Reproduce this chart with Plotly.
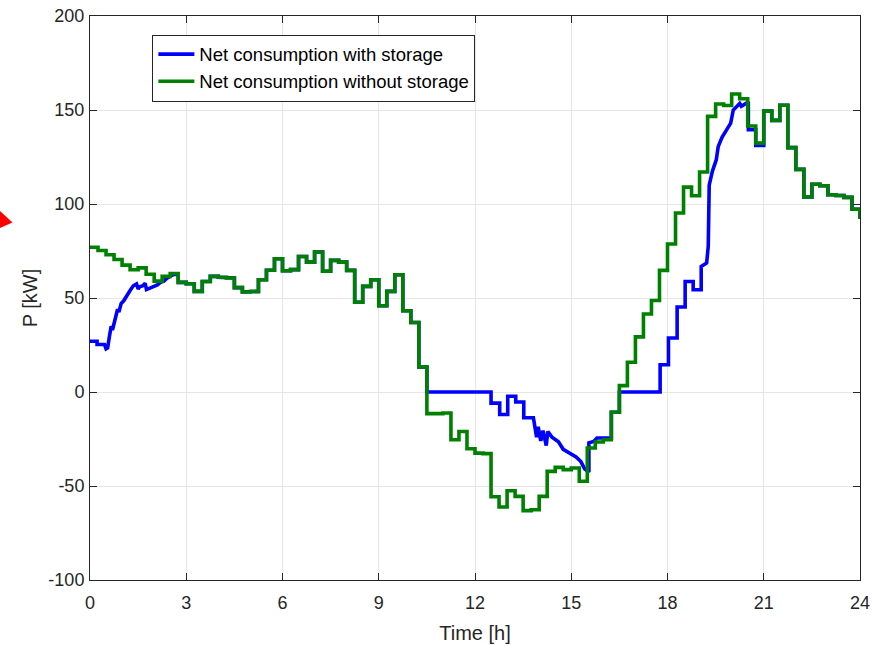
import plotly.graph_objects as go

# ---------------- data ----------------
# Net consumption without storage: 15-minute values, t = 0, 0.25, ..., 23.75 h
green_time = [i * 0.25 for i in range(96)]
green_values = [
    77.0, 75.3, 73.0, 70.5, 67.5, 65.0, 66.0, 62.6,
    59.0, 61.5, 63.0, 58.3, 57.6, 53.5, 58.8, 61.5,
    61.0, 60.6, 55.5, 53.2, 53.5, 59.7, 64.8, 70.9,
    64.5, 65.1, 72.1, 69.1, 74.5, 64.2, 70.0, 69.1,
    64.7, 47.7, 56.2, 59.7, 45.9, 53.5, 62.4, 43.2,
    37.0, 13.3, -11.5, -11.5, -11.2, -25.4, -21.0, -30.2,
    -32.5, -32.8, -55.7, -61.2, -52.5, -55.5, -63.1, -62.6,
    -55.5, -42.2, -40.1, -41.3, -40.4, -47.5, -29.8, -26.6,
    -25.4, -10.8, 3.4, 15.8, 29.3, 41.5, 48.7, 64.7,
    78.7, 95.2, 109.0, 104.4, 117.0, 146.6, 153.2, 152.4,
    158.5, 156.0, 141.5, 132.4, 149.5, 144.5, 152.5, 130.0,
    118.4, 103.7, 110.5, 109.7, 104.9, 104.5, 103.5, 97.2,
]
green_end_time = 24.0
green_end_value = 92.0

# Net consumption with storage: sections where it differs from the curve without storage
blue_a_time = [0, 0.22, 0.22, 0.45, 0.5, 0.55, 0.6, 0.66, 0.7, 0.78, 0.86, 0.9, 0.97,
               1.05, 1.15, 1.25, 1.35, 1.45, 1.5, 1.55, 1.65, 1.72, 1.76, 1.9, 2.0,
               2.1, 2.2, 2.3, 2.4, 2.5, 2.6, 2.7, 2.75]
blue_a_values = [27, 27, 25.3, 25.3, 23, 23.5, 29, 35, 33, 39, 44, 42.5, 47,
                 48.5, 51.5, 54, 56.5, 57.5, 54.8, 56, 56.5, 57.8, 54.5, 55.5, 56.5,
                 57, 58.3, 59, 60.5, 61.5, 62.5, 62.7, 62.7]

blue_b_time = [10.5, 12.5, 12.5, 12.77, 12.77, 13.02, 13.02, 13.27, 13.27, 13.52, 13.52,
               13.82, 13.92, 13.97, 14.05, 14.12, 14.22, 14.27, 14.4, 14.5, 14.6, 14.75,
               14.95, 15.15, 15.3, 15.42, 15.55, 15.55, 15.7, 15.8, 16.25]
blue_b_values = [0, 0, -5.9, -5.9, -12, -12, -2.3, -2.3, -5.3, -5.3, -13.7,
                 -13.7, -24, -18.5, -26, -20.5, -28.5, -21, -24, -25.5, -26.5, -30.5,
                 -32.5, -34.5, -37, -41, -42.5, -27, -26.3, -24.5, -24.5]

blue_c_time = [16.5, 17.77, 17.77, 18.03, 18.03, 18.3, 18.3, 18.55, 18.55, 18.8, 18.8,
               19.05, 19.05, 19.22, 19.27, 19.3, 19.4, 19.52, 19.58, 19.7, 19.8, 19.97,
               20.05, 20.17, 20.25, 20.3, 20.45, 20.52, 20.52, 20.75, 20.75, 21.0]
blue_c_values = [0, 0, 14.5, 14.5, 28.7, 28.7, 45.2, 45.2, 58.8, 58.8, 54.4,
                 54.4, 66.8, 68.6, 77.5, 110, 117.5, 123.5, 130.5, 135.5, 138.5, 143,
                 150, 152.3, 153.5, 152, 153.5, 153.5, 139.5, 139.5, 131.2, 131.2]

x_ticks = [0, 3, 6, 9, 12, 15, 18, 21, 24]
y_ticks = [-100, -50, 0, 50, 100, 150, 200]


def shared_steps(t_from, t_to):
    """Step corners of the shared curve between t_from and t_to."""
    xs, ys = [], []
    times = green_time + [green_end_time]
    for i in range(len(green_time)):
        t0, t1 = times[i], times[i + 1]
        if t0 >= t_from - 1e-9 and t1 <= t_to + 1e-9:
            xs += [t0, t1]
            ys += [green_values[i], green_values[i]]
    return xs, ys


bx, by = list(blue_a_time), list(blue_a_values)
sx, sy = shared_steps(2.75, 10.5)
bx += sx; by += sy
bx += blue_b_time; by += blue_b_values
sx, sy = shared_steps(16.25, 16.5)
bx += sx; by += sy
bx += blue_c_time; by += blue_c_values
sx, sy = shared_steps(21.0, 24.0)
bx += sx + [green_end_time]; by += sy + [green_end_value]

FONT = "Arial, Liberation Sans, sans-serif"
AXIS_COLOR = "#262626"
GRID_COLOR = "#e6e6e6"

fig = go.Figure()
fig.add_trace(go.Scatter(
    x=bx, y=by, mode="lines", name="Net consumption with storage",
    line=dict(color="#0000ff", width=3.6), legendgroup="a",
))
fig.add_trace(go.Scatter(
    x=green_time + [green_end_time], y=green_values + [green_end_value],
    mode="lines", name="Net consumption without storage",
    line=dict(color="#008000", width=3.6, shape="hv"), legendgroup="b",
))

axis_common = dict(
    showline=True, linecolor=AXIS_COLOR, linewidth=1, mirror="ticks",
    ticks="inside", ticklen=7, tickcolor=AXIS_COLOR, tickwidth=1,
    showgrid=True, gridcolor=GRID_COLOR, gridwidth=1, zeroline=False,
    tickfont=dict(family=FONT, size=18, color=AXIS_COLOR),
    automargin=False,
)

fig.update_xaxes(
    range=[0, 24], tickvals=x_ticks, ticktext=[str(v) for v in x_ticks],
    ticklabelstandoff=6,
    title=dict(text="Time [h]", font=dict(family=FONT, size=20, color=AXIS_COLOR), standoff=14),
    **axis_common,
)
fig.update_yaxes(
    range=[-100, 200], tickvals=y_ticks, ticktext=[str(v) for v in y_ticks],
    ticklabelstandoff=1,
    title=dict(text="P [kW]", font=dict(family=FONT, size=20, color=AXIS_COLOR), standoff=5),
    **axis_common,
)

fig.update_layout(
    width=873, height=646,
    margin=dict(l=90, r=13, t=16, b=66, autoexpand=False),
    paper_bgcolor="white", plot_bgcolor="white",
    font=dict(family=FONT, color="black"),
    legend=dict(
        x=0.081, y=0.967, xanchor="left", yanchor="top",
        bgcolor="white", bordercolor=AXIS_COLOR, borderwidth=1,
        font=dict(family=FONT, size=18.5, color="black"),
        tracegroupgap=0, itemwidth=36,
    ),
    shapes=[dict(
        type="path", xref="paper", yref="paper",
        path="M -0.1007 0.634 L -0.124 0.663 L -0.124 0.620 Z",
        fillcolor="#ff0000", line=dict(width=0),
    )],
    showlegend=True,
)

fig.write_html("out.html")
